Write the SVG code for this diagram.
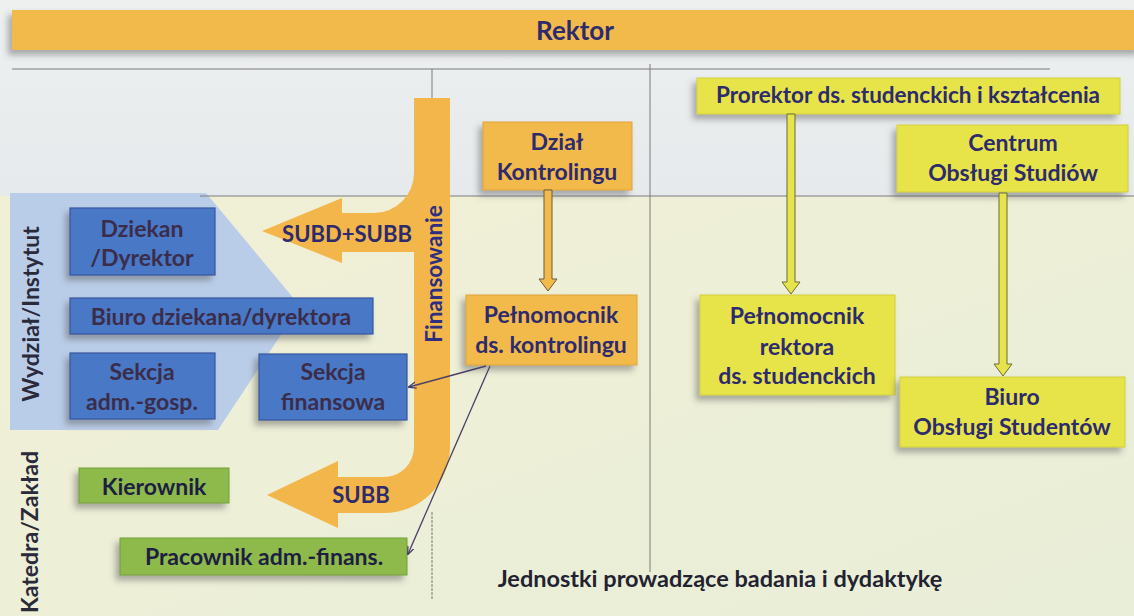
<svg xmlns="http://www.w3.org/2000/svg" width="1134" height="616" viewBox="0 0 1134 616">
<defs>
<style>
.t{font-family:Lato,"Open Sans","Liberation Sans",sans-serif;font-weight:bold;text-anchor:middle;}
.navy{fill:#2D2A6E;}
.bt{fill:#3B2D4A;}
.gt{fill:#1E1E42;}
.orange{fill:#F2B94B;stroke:#E0A43A;stroke-width:1;}
.yellow{fill:#E6E44A;stroke:#D2CF3A;stroke-width:1;}
.blue{fill:#4A78C6;stroke:#3457A0;stroke-width:1.2;}
.green{fill:#8DBA4C;stroke:#74A03A;stroke-width:1;}
.grid{stroke:#7A7A7A;stroke-width:1;fill:none;}
.thin{stroke:#4A3F6A;stroke-width:1.3;fill:none;}
</style>
<filter id="sh" x="-20%" y="-20%" width="140%" height="160%">
<feDropShadow dx="-4" dy="5" stdDeviation="3" flood-color="#555" flood-opacity="0.45"/>
</filter>
<linearGradient id="bgTop" x1="0" y1="0" x2="0" y2="1">
<stop offset="0" stop-color="#EEF0F0"/><stop offset="1" stop-color="#E6EAEC"/>
</linearGradient>
<linearGradient id="bgBot" x1="0" y1="0" x2="1" y2="1">
<stop offset="0" stop-color="#F1F0D6"/><stop offset="1" stop-color="#E9EED8"/>
</linearGradient>
<linearGradient id="blueG" x1="0" y1="0" x2="0" y2="1">
<stop offset="0" stop-color="#5584D0"/><stop offset="1" stop-color="#416DBD"/>
</linearGradient>
<marker id="ah" viewBox="0 0 10 10" refX="9" refY="5" markerWidth="8" markerHeight="8" orient="auto-start-reverse" markerUnits="userSpaceOnUse">
<path d="M0 1 L10 5 L0 9" fill="none" stroke="#4A3F6A" stroke-width="1.6"/>
</marker>
</defs>

<!-- background -->
<rect x="0" y="0" width="1134" height="196" fill="url(#bgTop)"/>
<rect x="0" y="196" width="1134" height="420" fill="url(#bgBot)"/>
<polygon id="wydzial-panel" points="10,193 206,193 300,306 218,430 10,430" fill="#BACDE8"/>

<!-- grid lines -->
<g id="grid">
<line class="grid" x1="12" y1="69" x2="1050" y2="69"/>
<line class="grid" x1="200" y1="196" x2="1134" y2="196"/>
<line class="grid" x1="432" y1="69" x2="432" y2="100"/>
<line class="grid" x1="432" y1="512" x2="432" y2="600" stroke-dasharray="3 1"/>
<line class="grid" x1="650" y1="64" x2="650" y2="572"/>
</g>

<!-- Rektor -->
<g id="rektor">
<rect x="12" y="10" width="1130" height="40" fill="#F2B94B" filter="url(#sh)"/>
<text class="t navy" x="575" y="40" font-size="26">Rektor</text>
</g>

<!-- Finansowanie flow -->
<g id="finansowanie">
<path d="M414 98 L450 98 L450 447 A 66 66 0 0 1 384 513 L338 513 L338 528 L267 495 L338 461 L338 477 L384 477 A 30 30 0 0 0 414 447 L414 252 L342 252 L342 263 L262 231 L342 198 L342 213 L374 213 A 40 40 0 0 0 414 173 Z" fill="#F2B64A"/>
<text class="t" x="0" y="0" font-size="22.5" fill="#2E2E80" transform="translate(442 274) rotate(-90)">Finansowanie</text>
<text class="t navy" x="347" y="242" font-size="22">SUBD+SUBB</text>
<text class="t navy" x="361" y="503" font-size="22">SUBB</text>
</g>

<!-- side labels -->
<g id="label-wydzial">
<text class="t" x="0" y="0" font-size="23" fill="#2A2A3A" transform="translate(39 314) rotate(-90)">Wydział/Instytut</text>
</g>
<g id="label-katedra">
<text class="t" x="0" y="0" font-size="23" fill="#2A2A3A" transform="translate(38 532) rotate(-90)">Katedra/Zakład</text>
</g>

<!-- Blue nodes -->
<g id="dziekan">
<rect class="blue" x="70" y="208" width="145" height="67" fill="url(#blueG)" filter="url(#sh)"/>
<text class="t bt" x="142" y="237" font-size="23">Dziekan</text>
<text class="t bt" x="142" y="266" font-size="23">/Dyrektor</text>
</g>
<g id="biuro-dziekana">
<rect class="blue" x="70" y="298" width="303" height="36" fill="url(#blueG)" filter="url(#sh)"/>
<text class="t bt" x="221" y="325" font-size="23">Biuro dziekana/dyrektora</text>
</g>
<g id="sekcja-adm">
<rect class="blue" x="70" y="353" width="145" height="66" fill="url(#blueG)" filter="url(#sh)"/>
<text class="t bt" x="142" y="380" font-size="23">Sekcja</text>
<text class="t bt" x="142" y="410" font-size="23">adm.-gosp.</text>
</g>
<g id="sekcja-fin">
<rect class="blue" x="259" y="354" width="148" height="66" fill="url(#blueG)" filter="url(#sh)"/>
<text class="t bt" x="333" y="380" font-size="23">Sekcja</text>
<text class="t bt" x="333" y="410" font-size="23">finansowa</text>
</g>

<!-- Green nodes -->
<g id="kierownik">
<rect class="green" x="79" y="468" width="150" height="35" filter="url(#sh)"/>
<text class="t gt" x="154" y="495" font-size="23">Kierownik</text>
</g>
<g id="pracownik">
<rect class="green" x="120" y="538" width="287" height="37" filter="url(#sh)"/>
<text class="t gt" x="264" y="565" font-size="23">Pracownik adm.-finans.</text>
</g>

<!-- Orange nodes -->
<g id="dzial-kontrolingu">
<rect class="orange" x="483" y="122" width="149" height="68" filter="url(#sh)"/>
<text class="t navy" x="557" y="150" font-size="23">Dział</text>
<text class="t navy" x="557" y="180" font-size="23">Kontrolingu</text>
</g>
<g id="pelnomocnik-kontrolingu">
<rect class="orange" x="466" y="295" width="171" height="70" filter="url(#sh)"/>
<text class="t navy" x="551" y="323" font-size="23">Pełnomocnik</text>
<text class="t navy" x="551" y="353" font-size="23">ds. kontrolingu</text>
</g>

<!-- Yellow nodes -->
<g id="prorektor">
<rect class="yellow" x="697" y="78" width="423" height="36" filter="url(#sh)"/>
<text class="t navy" x="908" y="103" font-size="22.5">Prorektor ds. studenckich i kształcenia</text>
</g>
<g id="centrum">
<rect class="yellow" x="897" y="125" width="231" height="67" filter="url(#sh)"/>
<text class="t navy" x="1013" y="151" font-size="23">Centrum</text>
<text class="t navy" x="1013" y="181" font-size="23">Obsługi Studiów</text>
</g>
<g id="pelnomocnik-rektora">
<rect class="yellow" x="700" y="295" width="195" height="100" filter="url(#sh)"/>
<text class="t navy" x="797" y="324" font-size="23">Pełnomocnik</text>
<text class="t navy" x="797" y="355" font-size="23">rektora</text>
<text class="t navy" x="797" y="384" font-size="23">ds. studenckich</text>
</g>
<g id="biuro-obslugi">
<rect class="yellow" x="900" y="377" width="225" height="70" filter="url(#sh)"/>
<text class="t navy" x="1012" y="405" font-size="23">Biuro</text>
<text class="t navy" x="1012" y="435" font-size="23">Obsługi Studentów</text>
</g>

<!-- connectors -->
<g id="connectors">
<path d="M544 190 L552 190 L552 279 L557 279 L548 291 L539 279 L544 279 Z" fill="#F2B94B" stroke="#6B5A3A" stroke-width="1"/>
<path d="M787 114 L795 114 L795 282 L800 282 L791 294 L782 282 L787 282 Z" fill="#E6E44A" stroke="#6B6A3A" stroke-width="1"/>
<path d="M999 193 L1007 193 L1007 364 L1012 364 L1003 376 L994 364 L999 364 Z" fill="#E6E44A" stroke="#6B6A3A" stroke-width="1"/>
<line class="thin" x1="486" y1="366" x2="409" y2="387" marker-end="url(#ah)"/>
<line class="thin" x1="490" y1="366" x2="408" y2="554" marker-end="url(#ah)"/>
</g>

<!-- bottom label -->
<g id="jednostki">
<text class="t" x="720" y="587" font-size="23.5" fill="#222230">Jednostki prowadzące badania i dydaktykę</text>
</g>
</svg>
